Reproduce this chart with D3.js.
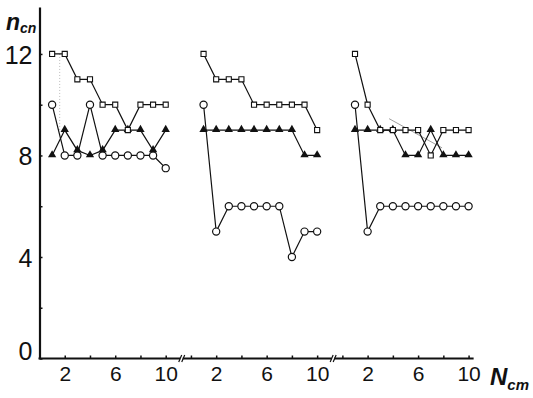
<!DOCTYPE html>
<html>
<head>
<meta charset="utf-8">
<script src="https://cdn.jsdelivr.net/npm/d3@7"></script>
<style>
  html, body { margin: 0; padding: 0; background: #fff; }
  svg { display: block; }
  text { font-family: "Liberation Sans", Arial, sans-serif; fill: #111; }
</style>
</head>
<body>
<svg id="chart" width="533" height="398"></svg>
<script>
// ---- data ----
const nValues = [1, 2, 3, 4, 5, 6, 7, 8, 9, 10];
const panels = [0, 1, 2];

const squares1   = [12, 12, 11, 11, 10, 10, 9, 10, 10, 10];
const triangles1 = [8, 9, 8.2, 8, 8.2, 9, 9, 9, 8.2, 9];
const circles1   = [10, 8, 8, 10, 8, 8, 8, 8, 8, 7.5];

const squares2   = [12, 11, 11, 11, 10, 10, 10, 10, 10, 9];
const triangles2 = [9, 9, 9, 9, 9, 9, 9, 9, 8, 8];
const circles2   = [10, 5, 6, 6, 6, 6, 6, 4, 5, 5];

const squares3   = [12, 10, 9, 9, 9, 9, 8, 9, 9, 9];
const triangles3 = [9, 9, 9, 9, 8, 8, 9, 8, 8, 8];
const circles3   = [10, 5, 6, 6, 6, 6, 6, 6, 6, 6];

const xTickValues = [0, 2, 4, 6, 8, 10];
const xTickLabels = [2, 6, 10];
const yTickValues = [0, 2, 4, 6, 8, 10, 12];
const yTickLabels = [0, 4, 8, 12];

// faint marks visible in the scan (data units: panel, N, n)
const faintThin   = [{panel: 2, n0: 3.7, v0: 9.45, n1: 7.9, v1: 8.3}];
const faintDotted = [{panel: 0, n0: 1.6, v0: 12, n1: 1.6, v1: 9.0}];

const seriesByPanel = [
  {squares: squares1, triangles: triangles1, circles: circles1},
  {squares: squares2, triangles: triangles2, circles: circles2},
  {squares: squares3, triangles: triangles3, circles: circles3}
];

// ---- layout ----
const svg = d3.select("#chart");
const unit = 12.62;
const x0 = 39.5;
const panelGap = 12; // units between panel origins
const y = d3.scaleLinear().domain([0, 13.85]).range([358.5, 7]);
const xPanel = panels.map(p => {
  const start = x0 + p * panelGap * unit;
  return d3.scaleLinear().domain([0, 10]).range([start, start + 10 * unit]);
});
const breakN = 11.15;
const axisEndN = 10.4;

// ---- y axis ----
const yAxis = d3.axisLeft(y)
  .tickValues(yTickValues)
  .tickSize(-3)
  .tickSizeOuter(0)
  .tickPadding(7)
  .tickFormat(d => yTickLabels.includes(d) ? d : "");
const gy = svg.append("g").attr("transform", `translate(${x0},0)`).call(yAxis);
gy.select(".domain").attr("stroke", "#111").attr("stroke-width", 2.2);
gy.selectAll(".tick line").attr("stroke", "#111").attr("stroke-width", 1.5);
gy.selectAll(".tick text").attr("font-size", 25)
  .attr("fill", "#111")
  .attr("dy", d => d === 0 ? "0.05em" : "0.38em");

// ---- x axis segments with breaks ----
const yAxisPos = y(0);
panels.forEach(p => {
  const sx = xPanel[p];
  const ax = d3.axisBottom(sx)
    .tickValues(p === 0 ? xTickValues.filter(v => v > 0) : xTickValues)
    .tickSize(-3)
    .tickSizeOuter(0)
    .tickPadding(8)
    .tickFormat(d => xTickLabels.includes(d) ? d : "");
  const g = svg.append("g").attr("transform", `translate(0,${yAxisPos})`).call(ax);
  g.select(".domain").remove();
  g.selectAll(".tick line").attr("stroke", "#111").attr("stroke-width", 1.5);
  g.selectAll(".tick text").attr("font-size", 21).attr("fill", "#111");
  const left = p === 0 ? sx(0) - 1 : sx(breakN - panelGap) + 2.5;
  const right = p === 2 ? sx(axisEndN) : sx(breakN);
  g.append("line").attr("x1", left).attr("x2", right).attr("y1", 0).attr("y2", 0)
    .attr("stroke", "#111").attr("stroke-width", 2.2);
  if (p < 2) {
    [sx(breakN), sx(breakN) + 3].forEach(bx => {
      g.append("line").attr("x1", bx - 1.5).attr("x2", bx + 1.5)
        .attr("y1", 3.5).attr("y2", -3.5)
        .attr("stroke", "#111").attr("stroke-width", 1.2);
    });
  }
});

// ---- faint scan marks ----
faintThin.forEach(f => {
  svg.append("line")
    .attr("x1", xPanel[f.panel](f.n0)).attr("y1", y(f.v0))
    .attr("x2", xPanel[f.panel](f.n1)).attr("y2", y(f.v1))
    .attr("stroke", "#888").attr("stroke-width", 0.8);
});
faintDotted.forEach(f => {
  svg.append("line")
    .attr("x1", xPanel[f.panel](f.n0)).attr("y1", y(f.v0))
    .attr("x2", xPanel[f.panel](f.n1)).attr("y2", y(f.v1))
    .attr("stroke", "#bbb").attr("stroke-width", 1).attr("stroke-dasharray", "1,2");
});

// ---- series ----
const line = d3.line();
const sq = d3.symbol().type(d3.symbolSquare).size(26);
const tri = d3.symbol().type(d3.symbolTriangle).size(30);

seriesByPanel.forEach((s, p) => {
  const sx = xPanel[p];
  const g = svg.append("g");
  ["circles", "triangles", "squares"].forEach(key => {
    const pts = nValues.map((n, i) => [sx(n), y(s[key][i])]);
    g.append("path").attr("d", line(pts)).attr("fill", "none")
      .attr("stroke", "#111").attr("stroke-width", 1.2);
  });
  g.selectAll("circle.c").data(nValues).enter().append("circle")
    .attr("cx", n => sx(n)).attr("cy", (n, i) => y(s.circles[i]))
    .attr("r", 3.6).attr("fill", "#fff").attr("stroke", "#111").attr("stroke-width", 1.2);
  g.selectAll("path.t").data(nValues).enter().append("path")
    .attr("d", tri)
    .attr("transform", (n, i) => `translate(${sx(n)},${y(s.triangles[i]) - 0.5})`)
    .attr("fill", "#111");
  g.selectAll("path.s").data(nValues).enter().append("path")
    .attr("d", sq)
    .attr("transform", (n, i) => `translate(${sx(n)},${y(s.squares[i])})`)
    .attr("fill", "#fff").attr("stroke", "#111").attr("stroke-width", 1.1);
});

// ---- axis titles ----
const yt = svg.append("text").attr("x", 6).attr("y", 30).attr("font-style", "italic");
yt.append("tspan").attr("font-size", 23).attr("font-weight", "bold").text("n");
yt.append("tspan").attr("font-size", 14).attr("font-weight", "bold").attr("dy", 3).text("cn");

const xt = svg.append("text").attr("x", 490).attr("y", 385).attr("font-style", "italic");
xt.append("tspan").attr("font-size", 24).attr("font-weight", "bold").text("N");
xt.append("tspan").attr("font-size", 15).attr("font-weight", "bold").attr("dy", 5).text("cm");
</script>
</body>
</html>
